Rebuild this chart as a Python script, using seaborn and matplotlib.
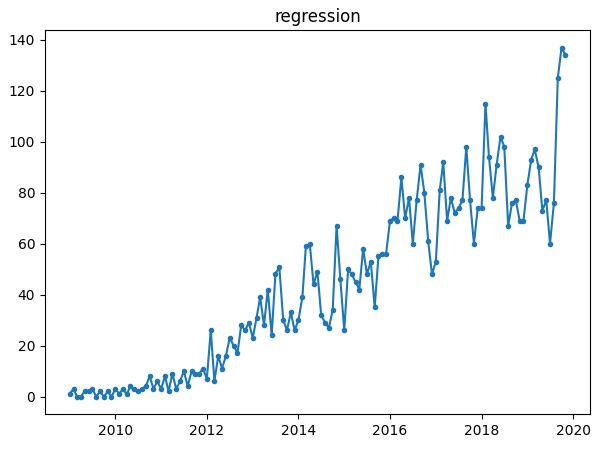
import numpy as np
import pandas as pd
import seaborn as sns
import matplotlib.pyplot as plt

# monthly values, Jan 2009 .. Nov 2019
y2009 = [1, 3, 0, 0, 2, 2, 3, 0, 2, 0, 2, 0]
y2010 = [3, 1, 3, 1, 4, 3, 2, 3, 4, 8, 3, 6]
y2011 = [3, 8, 2, 9, 3, 6, 10, 4, 10, 9, 9, 11]
y2012 = [7, 26, 6, 16, 11, 16, 23, 20, 17, 28, 26, 29]
y2013 = [23, 31, 39, 28, 42, 24, 48, 51, 30, 26, 33, 26]
y2014 = [30, 39, 59, 60, 44, 49, 32, 29, 27, 34, 67, 46]
y2015 = [26, 50, 48, 45, 42, 58, 48, 53, 35, 55, 56, 56]
y2016 = [69, 70, 69, 86, 70, 78, 60, 77, 91, 80, 61, 48]
y2017 = [53, 81, 92, 69, 78, 72, 74, 77, 98, 77, 60, 74]
y2018 = [74, 115, 94, 78, 91, 102, 98, 67, 76, 77, 69, 69]
y2019 = [83, 93, 97, 90, 73, 77, 60, 76, 125, 137, 134]

counts = y2009 + y2010 + y2011 + y2012 + y2013 + y2014 + y2015 + y2016 + y2017 + y2018 + y2019
dates = pd.date_range("2009-01-01", periods=len(counts), freq="MS")
df = pd.DataFrame({"date": dates, "count": counts})

fig, ax = plt.subplots(figsize=(5.98, 4.49), dpi=100)
sns.lineplot(data=df, x="date", y="count", marker="o", markersize=4,
             markeredgewidth=0, color="#1f77b4", linewidth=1.5, ax=ax)
ax.set_title("regression")
ax.set_xlabel("")
ax.set_ylabel("")
fig.subplots_adjust(left=0.075, right=0.987, top=0.933, bottom=0.078)
fig.savefig("out.png", dpi=100)
